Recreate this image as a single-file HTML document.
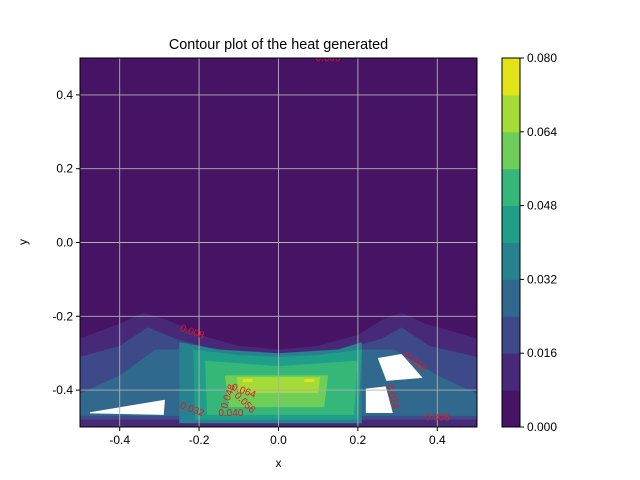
<!DOCTYPE html>
<html><head><meta charset="utf-8"><style>body{margin:0;background:#fff}svg{display:block;font-family:"Liberation Sans",sans-serif}</style></head>
<body>
<svg id="c" width="640" height="480"></svg>
<script>
const levels=[0,0.008,0.016,0.024,0.032,0.040,0.048,0.056,0.064,0.072,0.080];
const colors=["#471365","#482878","#3e4989","#31688e","#26828e","#1f9e89","#35b779","#6ece58","#a5db36","#e2e418"];
const xTicks=[-0.4,-0.2,0,0.2,0.4];
const yTicks=[-0.4,-0.2,0,0.2,0.4];
const cbTicks=[0,0.016,0.032,0.048,0.064,0.080];
const regions=[
 [1,[[-0.5,-0.5],[-0.5,-0.26],[-0.4,-0.22],[-0.34,-0.19],[-0.28,-0.21],[-0.2,-0.25],[-0.1,-0.28],[0,-0.29],[0.1,-0.28],[0.2,-0.25],[0.26,-0.21],[0.31,-0.19],[0.37,-0.22],[0.5,-0.26],[0.5,-0.5]]],
 [2,[[-0.5,-0.48],[-0.5,-0.31],[-0.4,-0.28],[-0.33,-0.23],[-0.26,-0.26],[-0.1,-0.31],[0,-0.32],[0.1,-0.31],[0.26,-0.26],[0.31,-0.23],[0.38,-0.28],[0.5,-0.31],[0.5,-0.48]]],
 [3,[[-0.5,-0.47],[-0.5,-0.41],[-0.4,-0.36],[-0.31,-0.29],[-0.2,-0.29],[0,-0.34],[0.2,-0.29],[0.29,-0.29],[0.4,-0.36],[0.5,-0.41],[0.5,-0.47]]],
 [4,[[-0.25,-0.49],[-0.25,-0.27],[-0.15,-0.29],[0,-0.3],[0.15,-0.29],[0.21,-0.27],[0.21,-0.49]]],
 [5,[[-0.21,-0.48],[-0.215,-0.29],[-0.1,-0.305],[0,-0.31],[0.1,-0.305],[0.21,-0.29],[0.2,-0.48]]],
 [6,[[-0.18,-0.467],[-0.185,-0.32],[0,-0.335],[0.2,-0.32],[0.19,-0.467]]],
 [7,[[-0.125,-0.446],[-0.135,-0.36],[0.125,-0.36],[0.115,-0.446]]],
 [8,[[-0.1,-0.408],[-0.105,-0.365],[0.105,-0.365],[0.1,-0.408]]],
 [9,[[-0.09,-0.37],[-0.065,-0.37],[-0.065,-0.378],[-0.09,-0.378]]],
 [9,[[0.065,-0.37],[0.09,-0.37],[0.09,-0.378],[0.065,-0.378]]]
];
const holes=[
 [[-0.475,-0.46],[-0.286,-0.426],[-0.289,-0.467],[-0.475,-0.463]],
 [[0.25,-0.313],[0.31,-0.302],[0.363,-0.367],[0.272,-0.375]],
 [[0.22,-0.396],[0.27,-0.39],[0.288,-0.462],[0.22,-0.462]]
];
const labels=[["0.008",-0.22,-0.25,20],["0.016",0.34,-0.33,40],["0.024",0.28,-0.42,75],["0.064",-0.09,-0.41,20],["0.056",-0.09,-0.44,45],["0.048",-0.12,-0.42,-70],["0.040",-0.12,-0.47,0],["0.032",-0.22,-0.46,20],["0.008",0.4,-0.482,0]];
const X0=80,X1=477,Y0=58,Y1=427;
const sx=v=>X0+(v+0.5)*(X1-X0), sy=v=>Y1-(v+0.5)*(Y1-Y0);
const cy=v=>Y1-v/0.08*(Y1-Y0);
const svg=document.getElementById('c');const NS="http://www.w3.org/2000/svg";
function mk(t,a,p){const e=document.createElementNS(NS,t);for(const k in a)e.setAttribute(k,a[k]);(p||svg).appendChild(e);return e;}
let bg=mk('rect',{x:X0,y:Y0,width:X1-X0,height:Y1-Y0,fill:colors[0]});


const clip=mk('clipPath',{id:'cl'});mk('rect',{x:X0,y:Y0,width:X1-X0,height:Y1-Y0},clip);
const g=mk('g',{'clip-path':'url(#cl)'});
regions.forEach(r=>{const p=mk('polygon',{points:r[1].map(q=>sx(q[0])+','+sy(q[1])).join(' '),fill:colors[r[0]]},g);

});
holes.forEach(h=>{const p=mk('polygon',{points:h.map(q=>sx(q[0])+','+sy(q[1])).join(' '),fill:'#fff'},g);

});
xTicks.forEach(t=>{const l=mk('line',{x1:sx(t),x2:sx(t),y1:Y0,y2:Y1,stroke:'#b0b0b0','stroke-width':0.9},g);});
yTicks.forEach(t=>{const l=mk('line',{x1:X0,x2:X1,y1:sy(t),y2:sy(t),stroke:'#b0b0b0','stroke-width':0.9},g);});
labels.forEach(L=>{const t=mk('text',{x:sx(L[1]),y:sy(L[2]),fill:'#e8161b','font-size':10,'text-anchor':'middle',transform:`rotate(${L[3]} ${sx(L[1])} ${sy(L[2])})`},g);t.textContent=L[0];});
const topLabel=mk('text',{x:328,y:61,fill:'#e8161b','font-size':10,'text-anchor':'middle'},g);topLabel.textContent='0.000';


mk('rect',{x:X0,y:Y0,width:X1-X0,height:Y1-Y0,fill:'none',stroke:'#000','stroke-width':1});
xTicks.forEach(t=>{mk('line',{x1:sx(t),x2:sx(t),y1:Y1,y2:Y1+4,stroke:'#000'});const e=mk('text',{x:sx(t),y:Y1+17,'font-size':12,'text-anchor':'middle'});e.textContent=t.toFixed(1);});
yTicks.forEach(t=>{mk('line',{x1:X0-4,x2:X0,y1:sy(t),y2:sy(t),stroke:'#000'});const e=mk('text',{x:X0-7,y:sy(t)+4,'font-size':12,'text-anchor':'end'});e.textContent=t.toFixed(1);});
const CX=502,CW=18;
colors.forEach((c,i)=>{const r=mk('rect',{x:CX,y:cy(levels[i+1]),width:CW,height:cy(levels[i])-cy(levels[i+1])+0.5,fill:c});});
mk('rect',{x:CX,y:Y0,width:CW,height:Y1-Y0,fill:'none',stroke:'#000'});
cbTicks.forEach(t=>{mk('line',{x1:CX+CW,x2:CX+CW+4,y1:cy(t),y2:cy(t),stroke:'#000'});const e=mk('text',{x:CX+CW+7,y:cy(t)+4,'font-size':12});e.textContent=t.toFixed(3);});
const ti=mk('text',{x:278.5,y:49,'font-size':14.4,'text-anchor':'middle'});ti.textContent='Contour plot of the heat generated';


const xl=mk('text',{x:278.5,y:467,'font-size':12,'text-anchor':'middle'});xl.textContent='x';


const yl=mk('text',{x:27,y:242,'font-size':12,'text-anchor':'middle',transform:'rotate(-90 27 242)'});yl.textContent='y';


</script>
</body></html>
